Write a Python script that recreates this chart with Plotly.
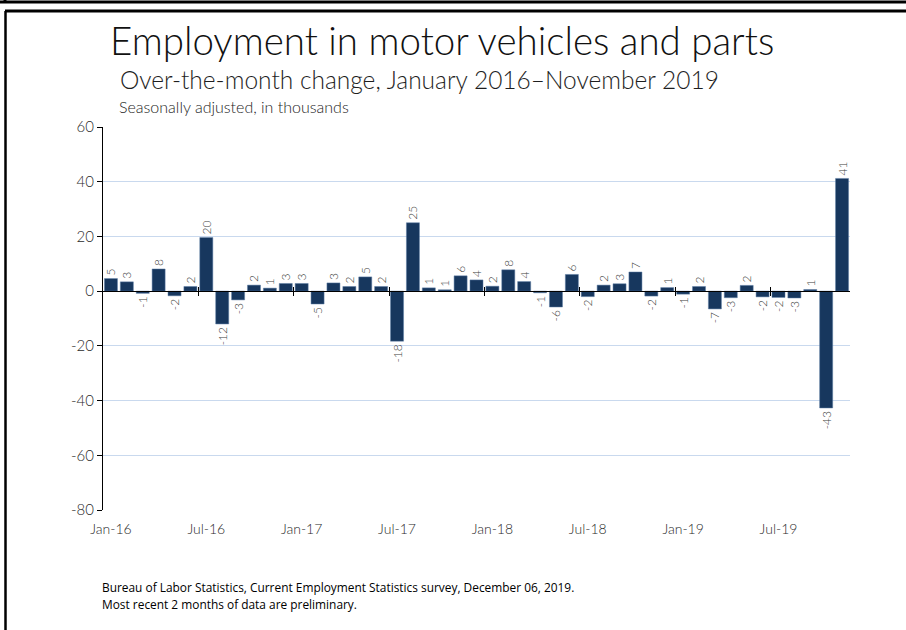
import plotly.graph_objects as go

months = [
    "Jan-16","Feb-16","Mar-16","Apr-16","May-16","Jun-16","Jul-16","Aug-16","Sep-16","Oct-16","Nov-16","Dec-16",
    "Jan-17","Feb-17","Mar-17","Apr-17","May-17","Jun-17","Jul-17","Aug-17","Sep-17","Oct-17","Nov-17","Dec-17",
    "Jan-18","Feb-18","Mar-18","Apr-18","May-18","Jun-18","Jul-18","Aug-18","Sep-18","Oct-18","Nov-18","Dec-18",
    "Jan-19","Feb-19","Mar-19","Apr-19","May-19","Jun-19","Jul-19","Aug-19","Sep-19","Oct-19","Nov-19",
]
change = [
    4.6, 3.4, -0.8, 8.1, -1.7, 1.7, 19.6, -12.0, -3.2, 2.2, 1.1, 2.8,
    2.8, -4.7, 3.0, 1.7, 5.2, 1.7, -18.3, 25.0, 1.2, 0.5, 5.6, 4.1,
    1.8, 7.8, 3.5, -0.6, -5.8, 6.1, -2.0, 2.2, 2.7, 7.0, -1.8, 1.3,
    -1.1, 1.7, -6.5, -2.4, 2.1, -2.1, -2.3, -2.5, 0.6, -42.7, 41.2,
]
labels = [str(v) for v in [
    5, 3, -1, 8, -2, 2, 20, -12, -3, 2, 1, 3,
    3, -5, 3, 2, 5, 2, -18, 25, 1, 1, 6, 4,
    2, 8, 4, -1, -6, 6, -2, 2, 3, 7, -2, 1,
    -1, 2, -7, -3, 2, -2, -2, -3, 1, -43, 41,
]]
y_ticks = [60, 40, 20, 0, -20, -40, -60, -80]
x_tick_labels = ["Jan-16","Jul-16","Jan-17","Jul-17","Jan-18","Jul-18","Jan-19","Jul-19"]

title = "Employment in motor vehicles and parts"
subtitle = "Over-the-month change, January 2016\u2013November 2019"
unit_note = "Seasonally adjusted, in thousands"
source_lines = [
    "Bureau of Labor Statistics, Current Employment Statistics survey, December 06, 2019.",
    "Most recent 2 months of data are preliminary.",
]

W, H = 906, 630
L, R, T, B = 103, 56, 127, 120
PW, PH = W - L - R, H - T - B
YMIN, YMAX = -80, 60

def px(x):
    return (x - L) / PW

def py(y):
    return (H - B - y) / PH

idx = list(range(len(months)))
tick_idx = [months.index(m) for m in x_tick_labels]
boundaries = [i - 0.5 for i in tick_idx if i > 0]

LIGHT = dict(family="Lato, sans-serif", weight=300)

fig = go.Figure()
fig.add_trace(go.Bar(
    x=idx, y=change, text=labels, textposition="outside", textangle=-90,
    constraintext="none", cliponaxis=False,
    textfont=dict(family="Lato, sans-serif", size=12, color="#404040", weight=300),
    marker=dict(color="#17375e", line=dict(color="#5f7fa6", width=0.5)),
    hoverinfo="skip", showlegend=False,
))
# dummy traces so that the zero-line axes are drawn
fig.add_trace(go.Scatter(x=[None], y=[None], xaxis="x2", showlegend=False))
fig.add_trace(go.Scatter(x=[None], y=[None], xaxis="x3", showlegend=False))

zero_pos = (0 - YMIN) / (YMAX - YMIN)
fig.update_layout(
    width=W, height=H,
    margin=dict(l=L, r=R, t=T, b=B, pad=0),
    paper_bgcolor="white", plot_bgcolor="white",
    bargap=0.18,
    font=dict(family="Lato, sans-serif", color="#333333"),
    xaxis=dict(
        range=[-0.5, len(months) - 0.5], tickvals=tick_idx, ticktext=x_tick_labels,
        showgrid=False, zeroline=False, showline=False, ticks="",
        tickfont=dict(size=14, color="#2b2b2b", weight=300),
        ticklabelstandoff=9,
    ),
    xaxis2=dict(
        overlaying="x", anchor="free", position=zero_pos,
        range=[-0.5, len(months) - 0.5], tickvals=boundaries,
        showticklabels=False, ticks="outside", ticklen=4, tickcolor="#000",
        showline=True, linecolor="#000", linewidth=1, showgrid=False, zeroline=False,
    ),
    xaxis3=dict(
        overlaying="x", anchor="free", position=zero_pos,
        range=[-0.5, len(months) - 0.5], tickvals=boundaries,
        showticklabels=False, ticks="inside", ticklen=4, tickcolor="#000",
        showline=False, showgrid=False, zeroline=False,
    ),
    yaxis=dict(
        range=[YMIN, YMAX], tickvals=y_ticks, ticktext=[str(v) for v in y_ticks],
        showgrid=True, gridcolor="#c9d9ee", gridwidth=1.3, zeroline=False,
        showline=True, linecolor="#000", linewidth=1.3,
        ticks="outside", ticklen=5, tickcolor="#000",
        tickfont=dict(size=15, color="#2b2b2b", weight=300),
    ),
)

ann = [
    dict(text=title, x=px(108), y=py(40), font=dict(size=38.5, color="#111111", **LIGHT)),
    dict(text=subtitle, x=px(118), y=py(80), font=dict(size=24.5, color="#1e1e1e", **LIGHT)),
    dict(text=unit_note, x=px(117), y=py(106), font=dict(size=16, color="#1e1e1e", **LIGHT)),
    dict(text=source_lines[0], x=px(100), y=py(587), font=dict(size=11.9, color="#000", family="Open Sans, sans-serif")),
    dict(text=source_lines[1], x=px(100), y=py(604), font=dict(size=11.9, color="#000", family="Open Sans, sans-serif")),
]
for a in ann:
    fig.add_annotation(xref="paper", yref="paper", xanchor="left", yanchor="middle",
                       showarrow=False, **a)

# frame lines
frame = [
    (px(0), py(2), px(W), py(2), 3),
    (px(5), py(0), px(5), py(2), 3),
    (px(5), py(11), px(W), py(11), 3),
    (px(5.5), py(11), px(5.5), py(H), 2.5),
]
for x0, y0, x1, y1, w in frame:
    fig.add_shape(type="line", xref="paper", yref="paper", x0=x0, y0=y0, x1=x1, y1=y1,
                  line=dict(color="#000", width=w), layer="above")

fig.write_html("out.html", config={"displayModeBar": False},
               post_script="document.body.style.margin='0';")
